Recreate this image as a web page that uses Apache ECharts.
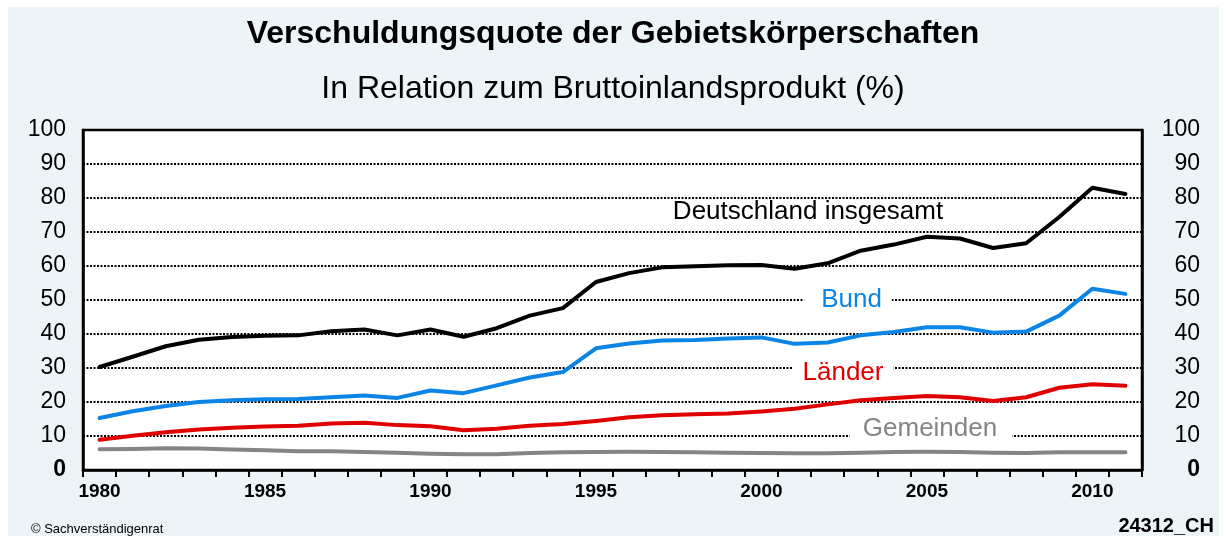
<!DOCTYPE html>
<html><head><meta charset="utf-8">
<script src="https://cdn.jsdelivr.net/npm/echarts@6/dist/echarts.min.js"></script>
<style>html,body{margin:0;padding:0;background:#fff}#c{width:1226px;height:536px}</style>
</head><body><div id="c"></div>
<script>
const years = ['1980','1981','1982','1983','1984','1985','1986','1987','1988','1989','1990','1991','1992','1993','1994','1995','1996','1997','1998','1999','2000','2001','2002','2003','2004','2005','2006','2007','2008','2009','2010','2011'];
const deutschland = [30.3,33.3,36.4,38.3,39.1,39.5,39.6,40.8,41.3,39.6,41.3,39.2,41.7,45.4,47.6,55.3,57.9,59.6,59.9,60.2,60.3,59.2,60.8,64.5,66.3,68.6,68.1,65.3,66.7,74.4,83.0,81.2];
const bund = [15.3,17.3,18.8,20.0,20.5,20.8,20.9,21.4,21.9,21.2,23.4,22.6,24.9,27.2,28.8,35.8,37.2,38.1,38.2,38.7,39.0,37.1,37.5,39.6,40.6,42.0,42.0,40.4,40.7,45.4,53.3,51.8];
const laender = [8.9,10.1,11.1,11.9,12.4,12.8,13.0,13.7,13.9,13.2,12.9,11.7,12.1,13.0,13.5,14.4,15.5,16.1,16.4,16.6,17.2,18.0,19.3,20.5,21.2,21.8,21.4,20.3,21.4,24.2,25.2,24.8];
const gemeinden = [6.1,6.2,6.4,6.3,6.0,5.8,5.5,5.5,5.3,5.1,4.8,4.6,4.6,5.0,5.2,5.3,5.4,5.3,5.2,5.1,5.0,4.9,4.9,5.1,5.3,5.4,5.3,5.1,5.0,5.2,5.2,5.2];

const FONT = 'Liberation Sans, Arial, sans-serif';
const chart = echarts.init(document.getElementById('c'));

function yLabel(v){ return v === 0 ? '{b|0}' : String(v); }
const yRich = { b: { fontWeight: 'bold', fontSize: 23, fontFamily: FONT, color: '#000' } };

function mkY(pos, margin){
  return {
    type: 'value', position: pos, min: 0, max: 100, interval: 10,
    axisLine: { show: true, lineStyle: { color: '#000', width: 2.5 } },
    axisTick: { show: false },
    splitLine: pos === 'left' ? { show: true, lineStyle: { color: '#000', type: [2, 1.5], width: 2 } } : { show: false },
    axisLabel: { formatter: yLabel, rich: yRich, color: '#000', fontSize: 23, fontFamily: FONT, margin: margin, align: 'right' }
  };
}

function line(name, data, color, w){
  return { name, type: 'line', data, symbol: 'none', smooth: false,
    lineStyle: { color, width: w, cap: 'round', join: 'round' }, itemStyle: { color }, z: 5 };
}

const labelFont = '26px ' + FONT;
chart.setOption({
  backgroundColor: '#ECF4F7',
  animation: false,
  title: [
    { text: 'Verschuldungsquote der Gebietskörperschaften', left: 'center', top: 13,
      textStyle: { fontFamily: FONT, fontWeight: 'bold', fontSize: 32, color: '#000' } },
    { text: 'In Relation zum Bruttoinlandsprodukt (%)', left: 'center', top: 68,
      textStyle: { fontFamily: FONT, fontWeight: 'normal', fontSize: 32, color: '#000' } },
    { text: '© Sachverständigenrat', left: 26, top: 518,
      textStyle: { fontFamily: FONT, fontWeight: 'normal', fontSize: 13, color: '#000' } },
    { text: '24312_CH', right: 7, top: 511,
      textStyle: { fontFamily: FONT, fontWeight: 'bold', fontSize: 20, color: '#000' } }
  ],
  grid: { left: 83, right: 84, top: 130, bottom: 66, show: true, backgroundColor: '#fff', borderColor: '#000', borderWidth: 2.5 },
  xAxis: {
    type: 'category', data: years, boundaryGap: true,
    axisLine: { show: true, lineStyle: { color: '#000', width: 2.5 } },
    axisTick: { show: true, interval: 0, length: 7, lineStyle: { color: '#000', width: 2 } },
    axisLabel: { interval: 4, color: '#000', fontWeight: 'bold', fontSize: 19, fontFamily: FONT, margin: 12 },
    splitLine: { show: false }
  },
  yAxis: [ mkY('left', 17), mkY('right', 58) ],
  series: [
    line('Gemeinden', gemeinden, '#858585', 4),
    line('Länder', laender, '#E00000', 4),
    line('Bund', bund, '#0A85E6', 4),
    line('Deutschland insgesamt', deutschland, '#000', 4)
  ],
  graphic: [
    { type: 'rect', z: 100, silent: true, shape: { x: 0, y: 0, width: 1226, height: 7 }, style: { fill: '#fff' } },
    { type: 'rect', z: 100, silent: true, shape: { x: 0, y: 0, width: 8, height: 536 }, style: { fill: '#fff' } },
    { type: 'rect', z: 100, silent: true, shape: { x: 1219, y: 0, width: 7, height: 536 }, style: { fill: '#fff' } },
    { type: 'text', z: 100, x: 808, y: 212, style: { text: 'Deutschland insgesamt', font: labelFont, fill: '#000', align: 'center', verticalAlign: 'middle' } },
    { type: 'text', z: 100, x: 848, y: 300, style: { text: 'Bund', font: labelFont, fill: '#0A85E6', align: 'center', verticalAlign: 'middle', backgroundColor: '#fff', padding: [2, 10, 2, 17] } },
    { type: 'text', z: 100, x: 843, y: 373, style: { text: 'Länder', font: labelFont, fill: '#E00000', align: 'center', verticalAlign: 'middle', backgroundColor: '#fff', padding: [2, 10, 2, 10] } },
    { type: 'text', z: 100, x: 931, y: 429, style: { text: 'Gemeinden', font: labelFont, fill: '#858585', align: 'center', verticalAlign: 'middle', backgroundColor: '#fff', padding: [2, 15, 2, 13] } }
  ]
});
</script></body></html>
